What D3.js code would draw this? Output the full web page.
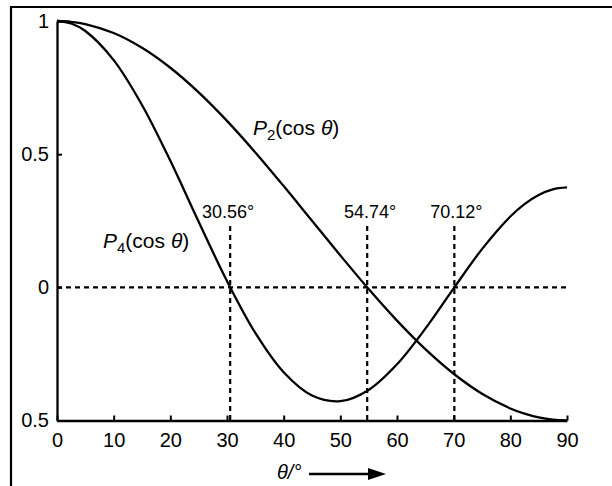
<!DOCTYPE html>
<html>
<head>
<meta charset="utf-8">
<script src="https://cdn.jsdelivr.net/npm/d3@7"></script>
<style>
  html, body { margin: 0; padding: 0; background: #fff; }
  svg { display: block; }
  text { font-family: "Liberation Sans", Arial, sans-serif; fill: #000; }
</style>
</head>
<body>
<svg id="chart" width="612" height="486"></svg>
<script>
// ---- data ----
const thetaDeg = [0, 2.5, 5, 10, 15, 20, 25, 30, 35, 40, 45, 50, 55, 60, 65, 70, 75, 80, 82.5, 85, 87.5, 90];
const p2Values = [1, 0.9971, 0.9886, 0.9548, 0.8995, 0.8245, 0.7321, 0.625, 0.5065, 0.3802, 0.25,
                  0.1198, -0.0065, -0.125, -0.2321, -0.3245, -0.3995, -0.4548, -0.4744, -0.4886, -0.4971, -0.5];
const p4Values = [1, 0.9905, 0.9623, 0.8532, 0.6847, 0.4750, 0.2465, 0.0234, -0.1714, -0.3190, -0.4063,
                  -0.4275, -0.3852, -0.2891, -0.1552, -0.0038, 0.1434, 0.2659, 0.3124, 0.3468, 0.3679, 0.375];
const xTicks = [0, 10, 20, 30, 40, 50, 60, 70, 80, 90];
const yTicks = [-0.5, 0, 0.5, 1];
const yTickLabels = ["0.5", "0", "0.5", "1"];
const markAngles = [30.56, 54.74, 70.12];
const markLabels = ["30.56°", "54.74°", "70.12°"];

const svg = d3.select("#chart");

const x = d3.scaleLinear().domain([0, 90]).range([57, 567]);
const y = d3.scaleLinear().domain([-0.5, 1]).range([420.5, 21]);

// outer frame (top + left)
svg.append("path")
  .attr("d", "M11,486 L11,7 L612,7")
  .attr("fill", "none").attr("stroke", "#000").attr("stroke-width", 2.2);

// dashed zero line
svg.append("line")
  .attr("x1", x(0)).attr("x2", x(90))
  .attr("y1", y(0)).attr("y2", y(0))
  .attr("stroke", "#000").attr("stroke-width", 2.2)
  .attr("stroke-dasharray", "5,4");

// vertical dashed markers
svg.selectAll("line.mark").data(markAngles).enter().append("line")
  .attr("class", "mark")
  .attr("x1", d => x(d)).attr("x2", d => x(d))
  .attr("y1", 226).attr("y2", y(-0.5))
  .attr("stroke", "#000").attr("stroke-width", 2.2)
  .attr("stroke-dasharray", "5,4");

const markDx = [-2, 3, 2];
svg.selectAll("text.mark").data(markAngles).enter().append("text")
  .attr("class", "mark")
  .attr("x", (d, i) => x(d) + markDx[i])
  .attr("y", 218)
  .attr("text-anchor", "middle")
  .style("font-size", "18px")
  .text((d, i) => markLabels[i]);

// curves
const line = d3.line()
  .x((d, i) => x(thetaDeg[i]))
  .y(d => y(d))
  .curve(d3.curveCatmullRom.alpha(0.5));

[p2Values, p4Values].forEach(vals => {
  svg.append("path")
    .attr("d", line(vals))
    .attr("fill", "none").attr("stroke", "#000").attr("stroke-width", 2.3);
});

// axes
const xAxis = d3.axisBottom(x).tickValues(xTicks)
  .tickSizeInner(-5).tickSizeOuter(0).tickPadding(12)
  .tickFormat(d3.format("d"));
const gx = svg.append("g").attr("transform", `translate(0,${y(-0.5)})`).call(xAxis);

const yAxis = d3.axisLeft(y).tickValues(yTicks)
  .tickSizeInner(-5).tickSizeOuter(0).tickPadding(8)
  .tickFormat((d, i) => yTickLabels[i]);
const gy = svg.append("g").attr("transform", `translate(${x(0)},0)`).call(yAxis);

[gx, gy].forEach(g => {
  g.select(".domain").attr("stroke-width", 2.3);
  g.selectAll(".tick line").attr("stroke-width", 2);
  g.selectAll(".tick text")
    .style("font-family", '"Liberation Sans", Arial, sans-serif')
    .style("font-size", "20px");
});

// curve labels
function legendLabel(xp, yp, sub) {
  const t = svg.append("text").attr("x", xp).attr("y", yp).style("font-size", "21px");
  t.append("tspan").style("font-style", "italic").text("P");
  t.append("tspan").attr("dy", 5).style("font-size", "15px").text(sub);
  t.append("tspan").attr("dy", -5).text("(cos ");
  t.append("tspan").style("font-style", "italic").text("θ");
  t.append("tspan").text(")");
}
legendLabel(253, 135, "2");
legendLabel(103, 248, "4");

// x-axis title with arrow
svg.append("text")
  .attr("x", 277).attr("y", 479)
  .style("font-size", "20px").style("font-style", "italic")
  .text("θ/°");
svg.append("line")
  .attr("x1", 309).attr("x2", 372).attr("y1", 474).attr("y2", 474)
  .attr("stroke", "#000").attr("stroke-width", 2.5);
svg.append("path")
  .attr("d", "M368,468 L386,474 L368,480 Z")
  .attr("fill", "#000");
</script>
</body>
</html>
